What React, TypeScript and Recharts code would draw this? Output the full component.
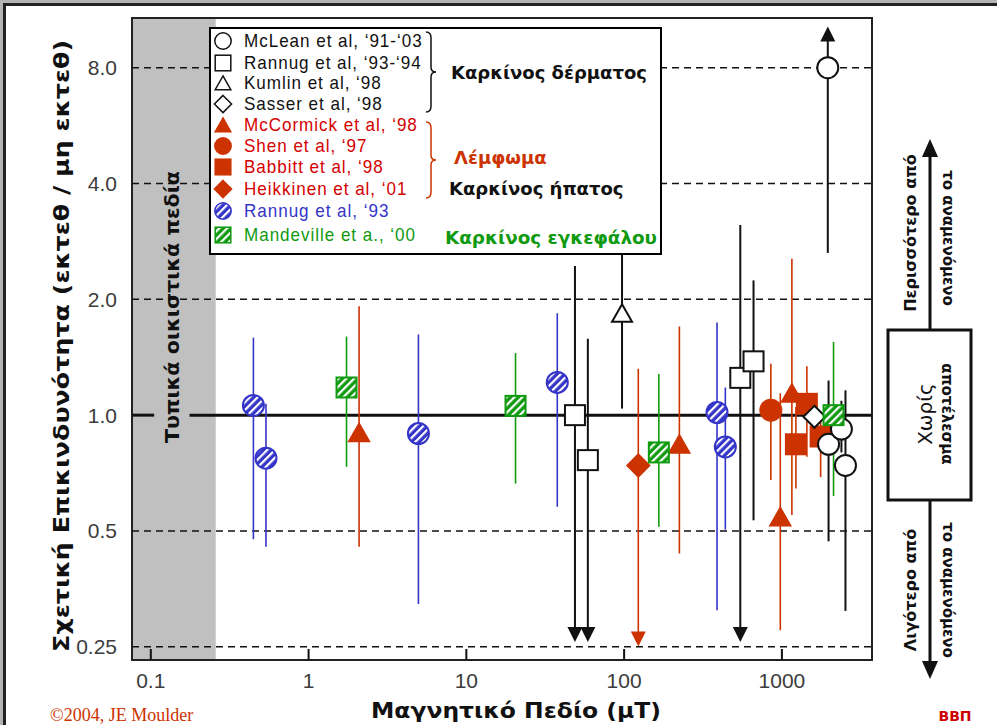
import React from "react";
import {
  ErrorBar,
  Label,
  Legend,
  ReferenceArea,
  ReferenceLine,
  Scatter,
  ScatterChart,
  XAxis,
  YAxis,
} from "recharts";

const X_MIN = 0.076;
const X_MAX = 3725;
const Y_MIN = 0.231;
const Y_MAX = 10.77;
const xTicks = [0.1, 1, 10, 100, 1000];
const yTicks = [0.25, 0.5, 1, 2, 4, 8];
const dashedLevels = [0.25, 0.5, 2, 4, 8];
const residentialLimit = 0.258;

// [field µT, relative risk, lower limit, upper limit]
const mcLean = [
  [1954, 8.0, 2.64, 9.78],
  [1976, 0.84, 0.47, 1.23],
  [2384, 0.92, 0.8, 1.09],
  [2529, 0.74, 0.31, 1.16],
];
const rannug9394 = [
  [48.8, 1.0, 0.269, 2.44],
  [58.9, 0.764, 0.269, 1.58],
  [545, 1.25, 0.269, 3.12],
  [661, 1.38, 0.533, 2.24],
];
const kumlin = [[97, 1.84, 1.04, 3.5]];
const sasser = [[1607, 0.99, 0.83, 1.14]];
const mcCormick = [
  [2.09, 0.9, 0.455, 1.92],
  [224, 0.84, 0.437, 1.7],
  [1157, 1.14, 0.55, 2.55],
  [977, 0.544, 0.276, 1.14],
];
const shen = [[851, 1.03, 0.678, 1.36]];
const babbitt = [
  [1227, 0.84, 0.645, 1.05],
  [1440, 1.07, 0.78, 1.34],
  [1760, 0.88, 0.69, 0.98],
];
const heikkinen = [[123, 0.74, 0.262, 1.32]];
const rannug93 = [
  [0.447, 1.06, 0.476, 1.59],
  [0.537, 0.773, 0.455, 1.07],
  [4.97, 0.896, 0.323, 1.62],
  [37.7, 1.216, 0.578, 1.84],
  [388, 1.016, 0.311, 1.74],
  [438, 0.827, 0.504, 1.18],
];
const mandeville = [
  [1.74, 1.18, 0.734, 1.6],
  [20.5, 1.057, 0.664, 1.45],
  [166, 0.8, 0.513, 1.28],
  [2125, 1.0, 0.616, 1.55],
];

// bounds that run off the plot: [field, arrowhead position]
const downArrowsBlack = [
  [48.8, 0.269],
  [58.9, 0.269],
  [545, 0.269],
];
const downArrowsRed = [[123, 0.262]];
const upArrowsBlack = [[1954, 9.78]];

const RED = "#cc3300";
const TEXT_RED = "#d40000";
const BLUE = "#3434c8";
const GREEN = "#109a10";
const BLACK = "#111";

type Kind = "circle" | "square" | "triangle" | "diamond" | "down" | "up";

interface MarkProps {
  kind: Kind;
  cx: number;
  cy: number;
  r: number;
  fill: string;
  stroke: string;
  sw?: number;
}

function Mark({ kind, cx, cy, r, fill, stroke, sw = 2 }: MarkProps) {
  if (cx == null || cy == null) return null;
  switch (kind) {
    case "circle":
      return <circle cx={cx} cy={cy} r={r} fill={fill} stroke={stroke} strokeWidth={sw} />;
    case "square":
      return (
        <rect x={cx - r} y={cy - r} width={2 * r} height={2 * r} fill={fill} stroke={stroke} strokeWidth={sw} />
      );
    case "triangle":
      return (
        <polygon
          points={`${cx},${cy - r * 0.9} ${cx + r},${cy + r * 0.85} ${cx - r},${cy + r * 0.85}`}
          fill={fill}
          stroke={stroke}
          strokeWidth={sw}
        />
      );
    case "diamond":
      return (
        <polygon
          points={`${cx},${cy - r} ${cx + r},${cy} ${cx},${cy + r} ${cx - r},${cy}`}
          fill={fill}
          stroke={stroke}
          strokeWidth={sw}
        />
      );
    case "down":
      return <polygon points={`${cx - r},${cy - r} ${cx + r},${cy - r} ${cx},${cy + r}`} fill={fill} />;
    case "up":
      return <polygon points={`${cx - r},${cy + r} ${cx + r},${cy + r} ${cx},${cy - r}`} fill={fill} />;
  }
  return null;
}

interface SeriesDef {
  name: string;
  rows: number[][];
  kind: Kind;
  fill: string;
  stroke: string;
  text: string;
  r: number;
}

const redSeries: SeriesDef[] = [
  { name: "McCormick et al, ‘98", rows: mcCormick, kind: "triangle", fill: RED, stroke: RED, text: TEXT_RED, r: 10 },
  { name: "Shen et al, ‘97", rows: shen, kind: "circle", fill: RED, stroke: RED, text: TEXT_RED, r: 10.5 },
  { name: "Babbitt et al, ‘98", rows: babbitt, kind: "square", fill: RED, stroke: RED, text: TEXT_RED, r: 10 },
  { name: "Heikkinen et al, ‘01", rows: heikkinen, kind: "diamond", fill: RED, stroke: RED, text: TEXT_RED, r: 11 },
];
const blackSeries: SeriesDef[] = [
  { name: "McLean et al, ‘91-‘03", rows: mcLean, kind: "circle", fill: "#fff", stroke: BLACK, text: BLACK, r: 10.5 },
  { name: "Rannug et al, ‘93-‘94", rows: rannug9394, kind: "square", fill: "#fff", stroke: BLACK, text: BLACK, r: 10 },
  { name: "Kumlin et al, ‘98", rows: kumlin, kind: "triangle", fill: "#fff", stroke: BLACK, text: BLACK, r: 10 },
  { name: "Sasser et al, ‘98", rows: sasser, kind: "diamond", fill: "#fff", stroke: BLACK, text: BLACK, r: 11 },
];
const greenSeries: SeriesDef = {
  name: "Mandeville et a., ‘00",
  rows: mandeville,
  kind: "square",
  fill: "url(#hatchGreen)",
  stroke: GREEN,
  text: GREEN,
  r: 10,
};
const blueSeries: SeriesDef = {
  name: "Rannug et al, ‘93",
  rows: rannug93,
  kind: "circle",
  fill: "url(#hatchBlue)",
  stroke: BLUE,
  text: BLUE,
  r: 10.5,
};

const drawOrder = [...redSeries, ...blackSeries, greenSeries, blueSeries];
const legendOrder = [...blackSeries, ...redSeries, blueSeries, greenSeries];

const toPoints = (rows: number[][]) =>
  rows.map(([x, y, lo, hi]) => ({ x, y, err: [y - lo, hi - y] }));
const toArrows = (rows: number[][]) => rows.map(([x, y]) => ({ x, y }));

const fmtY = (v: number) => (v === 0.25 ? "0.25" : v.toFixed(1));

const XTick = (p: any) => {
  const { x, y, payload } = p;
  return (
    <g>
      <line x1={x} x2={x} y1={y} y2={y - 11} stroke="#111" strokeWidth={2} />
      <text x={x} y={y + 28} textAnchor="middle" fontFamily="Liberation Sans" fontSize={21} fill="#3c3c3c">
        {payload.value}
      </text>
    </g>
  );
};

const bandLabel = (props: any) => {
  const vb = props.viewBox || { x: 132, width: 84 };
  const cx = vb.x + vb.width / 2 - 2;
  const cy = 307;
  return (
    <text
      x={cx}
      y={cy}
      transform={`rotate(-90 ${cx} ${cy})`}
      textAnchor="middle"
      dominantBaseline="central"
      fontFamily="DejaVu Sans"
      fontWeight="bold"
      fontSize={20}
      textLength={272}
      lengthAdjust="spacingAndGlyphs"
      fill="#111"
    >
      Τυπικά οικιστικά πεδία
    </text>
  );
};

const yTitle = () => (
  <text
    x={61}
    y={346}
    transform="rotate(-90 61 346)"
    textAnchor="middle"
    dominantBaseline="central"
    fontFamily="DejaVu Sans"
    fontWeight="bold"
    fontSize={22}
    textLength={612}
    lengthAdjust="spacingAndGlyphs"
    fill="#111"
  >
    Σχετική Επικινδυνότητα (εκτεθ / μη εκτεθ)
  </text>
);

const xTitle = () => (
  <text
    x={516}
    y={718}
    textAnchor="middle"
    fontFamily="DejaVu Sans"
    fontWeight="bold"
    fontSize={22}
    textLength={290}
    lengthAdjust="spacingAndGlyphs"
    fill="#111"
  >
    Μαγνητικό Πεδίο (μT)
  </text>
);

const brace = (top: number, tip: number, bottom: number, color: string) => {
  const x0 = 217;
  const x1 = 222;
  const x2 = 227;
  const d = `M${x0},${top} Q${x1},${top} ${x1},${top + 6} L${x1},${tip - 5} Q${x1},${tip} ${x2},${tip} Q${x1},${tip} ${x1},${tip + 5} L${x1},${bottom - 6} Q${x1},${bottom} ${x0},${bottom}`;
  return <path d={d} fill="none" stroke={color} strokeWidth={1.5} />;
};

const rowY = [14, 36, 56, 77, 98, 119, 140, 162, 184, 208];

const LegendBox = () => (
  <svg width={453} height={228} style={{ display: "block" }}>
    <rect x={1} y={1} width={451} height={226} fill="#fff" stroke="#000" strokeWidth={2} />
    {legendOrder.map((s, i) => (
      <g key={s.name}>
        <Mark kind={s.kind} cx={14} cy={rowY[i]} r={s.r * 0.78} fill={s.fill} stroke={s.stroke} sw={1.5} />
        <g transform={`translate(35 ${rowY[i] + 6}) scale(0.95 1)`}>
          <text x={0} y={0} fontFamily="Liberation Sans" fontSize={18} letterSpacing={1} fill={s.text}>
            {s.name}
          </text>
        </g>
      </g>
    ))}
    {brace(5, 45, 85, BLACK)}
    {brace(95, 133, 171, RED)}
    <g fontFamily="DejaVu Sans" fontWeight="bold" fontSize={18}>
      <text x={242} y={52} fill={BLACK}>Καρκίνος δέρματος</text>
      <text x={245} y={137} fill={RED}>Λέμφωμα</text>
      <text x={240} y={168} fill={BLACK}>Καρκίνος ήπατος</text>
      <text x={236} y={217} fill={GREEN} textLength={212} lengthAdjust="spacingAndGlyphs">
        Καρκίνος εγκεφάλου
      </text>
    </g>
  </svg>
);

const Patterns = () => (
  <svg width={0} height={0} style={{ position: "absolute" }}>
    <defs>
      <pattern id="hatchBlue" patternUnits="userSpaceOnUse" width={5.5} height={5.5} patternTransform="rotate(45)">
        <rect width={5.5} height={5.5} fill={BLUE} />
        <rect width={2.2} height={5.5} fill="#fff" />
      </pattern>
      <pattern id="hatchGreen" patternUnits="userSpaceOnUse" width={5.5} height={5.5} patternTransform="rotate(45)">
        <rect width={5.5} height={5.5} fill={GREEN} />
        <rect width={2.2} height={5.5} fill="#fff" />
      </pattern>
    </defs>
  </svg>
);

const rotText = (x: number, y: number, angle: number, size: number, txt: string, weight = "bold") => (
  <text
    x={x}
    y={y}
    transform={`rotate(${angle} ${x} ${y})`}
    textAnchor="middle"
    dominantBaseline="central"
    fontFamily="DejaVu Sans"
    fontWeight={weight}
    fontSize={size}
    fill="#111"
  >
    {txt}
  </text>
);

const Decorations = () => (
  <svg width={997} height={725} style={{ position: "absolute", left: 0, top: 0, pointerEvents: "none" }}>
    <rect x={0} y={0} width={997} height={3} fill="#b4b4b4" />
    <rect x={0} y={0} width={3} height={725} fill="#b4b4b4" />
    <rect x={3} y={3} width={994} height={3} fill="#222" />
    <rect x={3} y={3} width={3} height={722} fill="#222" />
    {/* right-hand guide */}
    <line x1={930} x2={930} y1={330} y2={152} stroke="#111" strokeWidth={3} />
    <polygon points="930,139 922,157 938,157" fill="#111" />
    <line x1={930} x2={930} y1={500} y2={665} stroke="#111" strokeWidth={3} />
    <polygon points="930,679 922,661 938,661" fill="#111" />
    <rect x={888} y={330} width={83} height={170} fill="#fff" stroke="#111" strokeWidth={3} />
    {rotText(910, 233, -90, 16, "Περισσότερο από")}
    {rotText(948, 238, 90, 15, "το αναμενόμενο")}
    {rotText(925, 414, -90, 20, "Χωρίς", "normal")}
    {rotText(947, 414, 90, 15, "αποτέλεσμα")}
    {rotText(910, 590, -90, 16, "Λιγότερο από")}
    {rotText(948, 590, 90, 15, "το αναμενόμενο")}
    <text x={50} y={721} fontFamily="Liberation Serif" fontSize={18} fill={RED}>
      ©2004, JE Moulder
    </text>
    <text x={955} y={721} textAnchor="middle" fontFamily="DejaVu Sans" fontWeight="bold" fontSize={14} fill="#cc0000">
      ΒΒΠ
    </text>
  </svg>
);

export default function App() {
  return (
    <div style={{ position: "absolute", left: 0, top: 0, width: 997, height: 725, background: "#fff", overflow: "hidden" }}>
      <Patterns />
      <div style={{ position: "absolute", left: 0, top: 0 }}>
        <ScatterChart width={997} height={725} margin={{ top: 18, right: 125, bottom: 25, left: 0 }}>
          <XAxis
            type="number"
            dataKey="x"
            scale="log"
            domain={[X_MIN, X_MAX]}
            allowDataOverflow
            ticks={xTicks}
            interval={0}
            height={40}
            axisLine={false}
            tickLine={false}
            tickSize={0}
            tickMargin={0}
            tick={XTick}
          >
            <Label content={xTitle} />
          </XAxis>
          <YAxis
            type="number"
            dataKey="y"
            scale="log"
            domain={[Y_MIN, Y_MAX]}
            allowDataOverflow
            ticks={yTicks}
            interval={0}
            width={132}
            axisLine={false}
            tickLine={false}
            tickSize={6}
            tickMargin={9}
            tickFormatter={fmtY}
            tick={{ fontFamily: "Liberation Sans", fontSize: 21, fill: "#3c3c3c" }}
          >
            <Label content={yTitle} />
          </YAxis>
          <ReferenceArea
            x1={X_MIN}
            x2={residentialLimit}
            y1={Y_MIN}
            y2={Y_MAX}
            fill="#c0c0c0"
            fillOpacity={1}
            stroke="none"
            label={bandLabel}
          />
          {dashedLevels.map((v) => (
            <ReferenceLine key={v} y={v} stroke="#111" strokeWidth={1.5} strokeDasharray="7 5" />
          ))}
          <ReferenceLine
            segment={[
              { x: X_MIN, y: 1 },
              { x: 0.105, y: 1 },
            ]}
            stroke="#111"
            strokeWidth={3}
          />
          <ReferenceLine
            segment={[
              { x: 0.176, y: 1 },
              { x: X_MAX, y: 1 },
            ]}
            stroke="#111"
            strokeWidth={3}
          />
          <ReferenceArea x1={X_MIN} x2={X_MAX} y1={Y_MIN} y2={Y_MAX} fill="none" stroke="#222" strokeWidth={2} />
          {drawOrder.map((s) => (
            <Scatter
              key={s.name}
              name={s.name}
              data={toPoints(s.rows)}
              isAnimationActive={false}
              shape={(p: any) => <Mark kind={s.kind} cx={p.cx} cy={p.cy} r={s.r} fill={s.fill} stroke={s.stroke} />}
            >
              <ErrorBar
                dataKey="err"
                direction="y"
                width={0}
                stroke={s.stroke}
                strokeWidth={s.stroke === BLACK ? 2 : 1.6}
              />
            </Scatter>
          ))}
          <Scatter
            name="arrows-black-down"
            data={toArrows(downArrowsBlack)}
            isAnimationActive={false}
            legendType="none"
            shape={(p: any) => <Mark kind="down" cx={p.cx} cy={p.cy} r={7.5} fill={BLACK} stroke={BLACK} />}
          />
          <Scatter
            name="arrows-red-down"
            data={toArrows(downArrowsRed)}
            isAnimationActive={false}
            legendType="none"
            shape={(p: any) => <Mark kind="down" cx={p.cx} cy={p.cy} r={7.5} fill={RED} stroke={RED} />}
          />
          <Scatter
            name="arrows-black-up"
            data={toArrows(upArrowsBlack)}
            isAnimationActive={false}
            legendType="none"
            shape={(p: any) => <Mark kind="up" cx={p.cx} cy={p.cy} r={7.5} fill={BLACK} stroke={BLACK} />}
          />
          <Legend
            layout="vertical"
            align="center"
            verticalAlign="middle"
            content={LegendBox}
            wrapperStyle={{ left: 209, top: 27, width: 453, height: 228 }}
          />
        </ScatterChart>
      </div>
      <Decorations />
    </div>
  );
}
